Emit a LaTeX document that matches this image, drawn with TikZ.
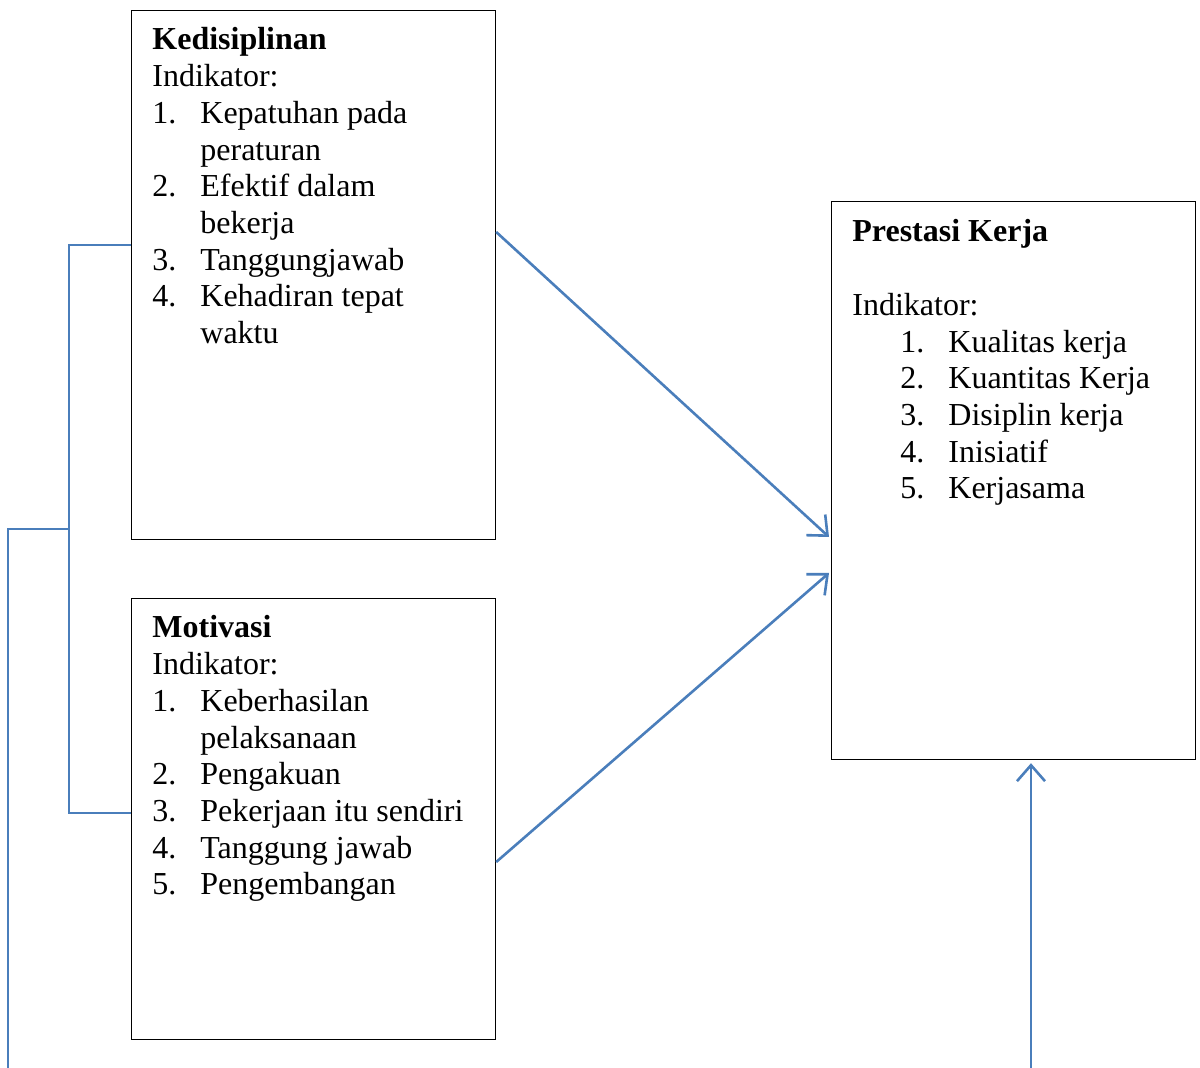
\documentclass[tikz,border=0pt]{standalone}
\usepackage{fontspec}
\setmainfont{Liberation Serif}
\usetikzlibrary{arrows.meta,calc}
\definecolor{linkblue}{HTML}{4A7EBB}
\newcommand\itm[2]{\makebox[24pt][l]{#1}#2}
\newcommand\cont[1]{\hspace*{24pt}#1}
\tikzset{
  box/.style={draw=black, line width=0.6pt, rectangle, anchor=north west, inner sep=0pt, minimum width=182pt},
  boxtext/.style={anchor=base west, inner sep=0pt, font=\fontsize{16}{18.35}\selectfont},
  arrowline/.style={draw=linkblue, line width=1.3pt, -{Straight Barb[length=8pt,width=14pt,line width=1.3pt]}},
  bracket/.style={draw=linkblue, line width=0.6pt}
}
\begin{document}
\begin{tikzpicture}[x=0.5pt,y=-0.5pt]
\useasboundingbox (0,0) rectangle (1200,1068);
% boxes
\node[box, minimum height=264.5pt] (K) at (131,10) {};
\node[box, minimum height=220.5pt] (M) at (131,598) {};
\node[box, minimum height=279pt] (P) at (831,201) {};
% texts
\node[boxtext] (Kt) at (152,50) {\parbox[t]{170pt}{\setlength{\baselineskip}{18.35pt}%
\textbf{Kedisiplinan}\\
Indikator:\\
\itm{1.}{Kepatuhan pada}\\
\cont{peraturan}\\
\itm{2.}{Efektif dalam}\\
\cont{bekerja}\\
\itm{3.}{Tanggungjawab}\\
\itm{4.}{Kehadiran tepat}\\
\cont{waktu}}};
\node[boxtext] (Mt) at (152,638) {\parbox[t]{170pt}{\setlength{\baselineskip}{18.35pt}%
\textbf{Motivasi}\\
Indikator:\\
\itm{1.}{Keberhasilan}\\
\cont{pelaksanaan}\\
\itm{2.}{Pengakuan}\\
\itm{3.}{Pekerjaan itu sendiri}\\
\itm{4.}{Tanggung jawab}\\
\itm{5.}{Pengembangan}}};
\node[boxtext] (Pt) at (852,242) {\parbox[t]{170pt}{\setlength{\baselineskip}{18.35pt}%
\textbf{Prestasi Kerja}\\
\mbox{}\\
Indikator:\\
\cont{\itm{1.}{Kualitas kerja}}\\
\cont{\itm{2.}{Kuantitas Kerja}}\\
\cont{\itm{3.}{Disiplin kerja}}\\
\cont{\itm{4.}{Inisiatif}}\\
\cont{\itm{5.}{Kerjasama}}}};
% bracket connectors
\coordinate (J) at (69,529);
\coordinate (B) at (8,1068);
\draw[bracket] ($(K.north west)+(0,235)$) -| (J);
\draw[bracket] ($(M.north west)+(0,215)$) -| (J);
\draw[bracket] (J) -- (J -| B) -- (B);
% arrows
\draw[arrowline] ($(K.north east)+(0,222)$) -- ($(P.north west)+(-2,336)$);
\draw[arrowline] ($(M.north east)+(0,264)$) -- ($(P.north west)+(-2,372)$);
\coordinate (U) at (1031,1068);
\draw[arrowline] (U) -- ($(U |- P.south)+(0,3)$);
\end{tikzpicture}
\end{document}
